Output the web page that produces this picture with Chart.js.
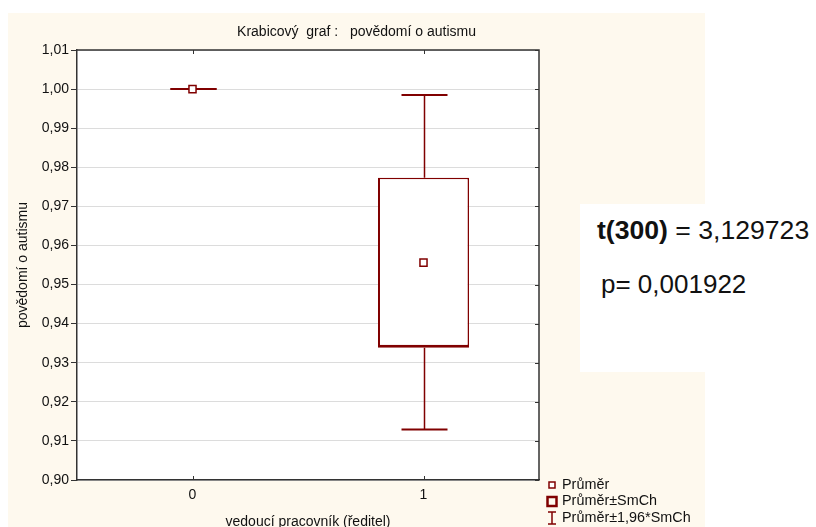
<!DOCTYPE html>
<html lang="cs">
<head>
<meta charset="utf-8">
<title>Krabicový graf: povědomí o autismu</title>
<script src="https://cdn.jsdelivr.net/npm/chart.js@4.4.1/dist/chart.umd.min.js"></script>
<style>
    html, body { margin: 0; padding: 0; background: #fff; overflow: hidden; }
    #wrap { position: relative; width: 816px; height: 527px; overflow: hidden; }
    #chart { position: absolute; left: 0; top: 0; }
    #stats {
        position: absolute; left: 580px; top: 204px; width: 236px; height: 168px;
        background: #fff; color: #111;
        font-family: 'Liberation Sans', Arial, sans-serif; font-size: 26px;
    }
    #stats div { position: absolute; white-space: nowrap; line-height: 1; }
</style>
</head>
<body>
<div id="wrap">
    <canvas id="chart" width="816" height="540"></canvas>
    <div id="stats">
        <div id="tLine" style="top: 13px; left: 17px; font-size: 26.6px;"></div>
        <div id="pLine" style="top: 67px; left: 21px;"></div>
    </div>
</div>
<script>
// skupiny a hodnoty (průměr, ±SmCh, ±1,96*SmCh)
const categories = ['0', '1'];
const means = [1.0, 0.9556];
const seLow = [1.0, 0.9338];
const seHigh = [1.0, 0.9773];
const ciLow = [1.0, 0.9129];
const ciHigh = [1.0, 0.9985];
const yTicks = [0.90, 0.91, 0.92, 0.93, 0.94, 0.95, 0.96, 0.97, 0.98, 0.99, 1.00, 1.01];
const legendLabels = ['Průměr', 'Průměr±SmCh', 'Průměr±1,96*SmCh'];

// t-test
const tDf = 300;
const tValue = '3,129723';
const pValue = '0,001922';

const DARK_RED = '#800000';
const FONT = "'Liberation Sans', Arial, sans-serif";

document.getElementById('tLine').innerHTML = `<b>t(${tDf})</b> = ${tValue}`;
document.getElementById('pLine').textContent = `p= ${pValue}`;

const panelPlugin = {
    id: 'panel',
    beforeDraw(chart) {
        const { ctx, chartArea: a } = chart;
        ctx.save();
        ctx.fillStyle = '#fef9ee';
        ctx.fillRect(8, 13, 697, chart.height - 13);
        ctx.fillStyle = '#fff';
        ctx.fillRect(a.left, a.top, a.right - a.left, a.bottom - a.top);
        ctx.restore();
    }
};

// vousy a zarážky pro ±1,96*SmCh
const whiskerPlugin = {
    id: 'whiskers',
    beforeDatasetsDraw(chart) {
        const { ctx, scales: { x, y } } = chart;
        const capHalf = 23;
        ctx.save();
        ctx.strokeStyle = DARK_RED;
        categories.forEach((c, i) => {
            const cx = Math.round(x.getPixelForValue(i)) + 0.5;
            ctx.lineWidth = 1.5;
            ctx.beginPath();
            ctx.moveTo(cx, y.getPixelForValue(ciHigh[i]));
            ctx.lineTo(cx, y.getPixelForValue(seHigh[i]));
            ctx.moveTo(cx, y.getPixelForValue(seLow[i]));
            ctx.lineTo(cx, y.getPixelForValue(ciLow[i]));
            ctx.stroke();
            ctx.lineWidth = 2;
            [ciHigh[i], ciLow[i]].forEach(v => {
                const py = y.getPixelForValue(v);
                ctx.beginPath();
                ctx.moveTo(cx - capHalf, py);
                ctx.lineTo(cx + capHalf, py);
                ctx.stroke();
            });
        });
        ctx.restore();
    }
};

// horní a pravý okraj grafu + vnitřní zarážky
const framePlugin = {
    id: 'frame',
    afterDraw(chart) {
        const { ctx, chartArea: a, scales: { x, y } } = chart;
        ctx.save();
        ctx.strokeStyle = '#333';
        ctx.lineWidth = 1.5;
        ctx.beginPath();
        ctx.moveTo(a.left, a.top);
        ctx.lineTo(a.right, a.top);
        ctx.lineTo(a.right, a.bottom);
        ctx.stroke();
        ctx.lineWidth = 1;
        ctx.beginPath();
        y.ticks.forEach((t, i) => {
            const py = Math.round(y.getPixelForTick(i)) + 0.5;
            ctx.moveTo(a.right, py);
            ctx.lineTo(a.right - 4, py);
        });
        x.ticks.forEach((t, i) => {
            const px = Math.round(x.getPixelForTick(i)) + 0.5;
            ctx.moveTo(px, a.top);
            ctx.lineTo(px, a.top + 4);
            ctx.moveTo(px, a.bottom);
            ctx.lineTo(px, a.bottom - 4);
        });
        ctx.stroke();
        ctx.restore();
    }
};

const legendPlugin = {
    id: 'boxLegend',
    afterDraw(chart) {
        const { ctx, chartArea: a } = chart;
        const x0 = a.right + 8;
        const rows = [a.bottom + 5, a.bottom + 21.5, a.bottom + 38];
        ctx.save();
        ctx.strokeStyle = DARK_RED;

        ctx.fillStyle = '#fff';
        ctx.lineWidth = 1.5;
        ctx.fillRect(x0 + 2, rows[0] - 3, 6, 6);
        ctx.strokeRect(x0 + 2, rows[0] - 3, 6, 6);

        ctx.lineWidth = 2.5;
        ctx.strokeRect(x0 + 0.5, rows[1] - 4.5, 9, 9);

        ctx.lineWidth = 1.5;
        ctx.beginPath();
        ctx.moveTo(x0 + 1, rows[2] - 6);
        ctx.lineTo(x0 + 9, rows[2] - 6);
        ctx.moveTo(x0 + 5, rows[2] - 6);
        ctx.lineTo(x0 + 5, rows[2] + 6);
        ctx.moveTo(x0 + 1, rows[2] + 6);
        ctx.lineTo(x0 + 9, rows[2] + 6);
        ctx.stroke();

        ctx.fillStyle = '#111';
        ctx.font = '14.4px ' + FONT;
        ctx.textBaseline = 'middle';
        legendLabels.forEach((t, i) => ctx.fillText(t, x0 + 15, rows[i]));
        ctx.restore();
    }
};

new Chart(document.getElementById('chart'), {
    data: {
        labels: categories,
        datasets: [
            {
                type: 'line',
                label: legendLabels[0],
                data: means,
                showLine: false,
                pointStyle: 'rect',
                pointRadius: 5,
                pointBackgroundColor: '#fff',
                pointBorderColor: DARK_RED,
                pointBorderWidth: 1.5,
                order: 0
            },
            {
                type: 'bar',
                label: legendLabels[1],
                data: seLow.map((lo, i) => [lo, seHigh[i]]),
                backgroundColor: '#fff',
                borderColor: DARK_RED,
                borderWidth: ctx => (ctx.raw && ctx.raw[0] === ctx.raw[1])
                    ? 0 : { top: 1.5, right: 1.5, bottom: 3, left: 2 },
                borderSkipped: false,
                categoryPercentage: 1,
                barPercentage: 0.394,
                order: 1
            }
        ]
    },
    options: {
        responsive: false,
        animation: false,
        devicePixelRatio: 1,
        layout: { padding: { left: 8, top: 13, right: 111, bottom: 0 } },
        plugins: {
            legend: { display: false },
            tooltip: { enabled: false },
            title: {
                display: true,
                text: 'Krabicový  graf :   povědomí o autismu',
                color: '#111',
                font: { size: 14, family: FONT, weight: 'normal' },
                padding: { top: 10.6, bottom: 9.6 }
            }
        },
        scales: {
            x: {
                grid: { display: false, drawTicks: false },
                border: { display: true, color: '#333', width: 1.5 },
                ticks: { color: '#111', font: { size: 14, family: FONT }, padding: 7 },
                title: {
                    display: true,
                    text: 'vedoucí pracovník (ředitel)',
                    color: '#111',
                    font: { size: 14, family: FONT },
                    padding: { top: 0, bottom: 9.6 }
                },
                afterFit: s => { s.height = 60; }
            },
            y: {
                min: 0.90,
                max: 1.01,
                afterBuildTicks: s => { s.ticks = yTicks.map(v => ({ value: v })); },
                grid: { color: '#dcdcdc', lineWidth: 1, drawTicks: true, tickLength: 6, tickColor: '#333' },
                border: { display: true, color: '#333', width: 1.5 },
                ticks: {
                    color: '#111',
                    font: { size: 14, family: FONT },
                    padding: 2,
                    callback: v => v.toFixed(2).replace('.', ',')
                },
                title: {
                    display: true,
                    text: 'povědomí o autismu',
                    color: '#111',
                    font: { size: 14, family: FONT },
                    padding: { top: 6.6, bottom: 0 }
                },
                afterFit: s => { s.width = 69; }
            },
            y2: {
                position: 'right',
                display: true,
                grid: { display: false, drawTicks: false },
                border: { display: false },
                ticks: { display: false },
                afterFit: s => { s.width = 166; }
            }
        }
    },
    plugins: [panelPlugin, whiskerPlugin, framePlugin, legendPlugin]
});
</script>
</body>
</html>
